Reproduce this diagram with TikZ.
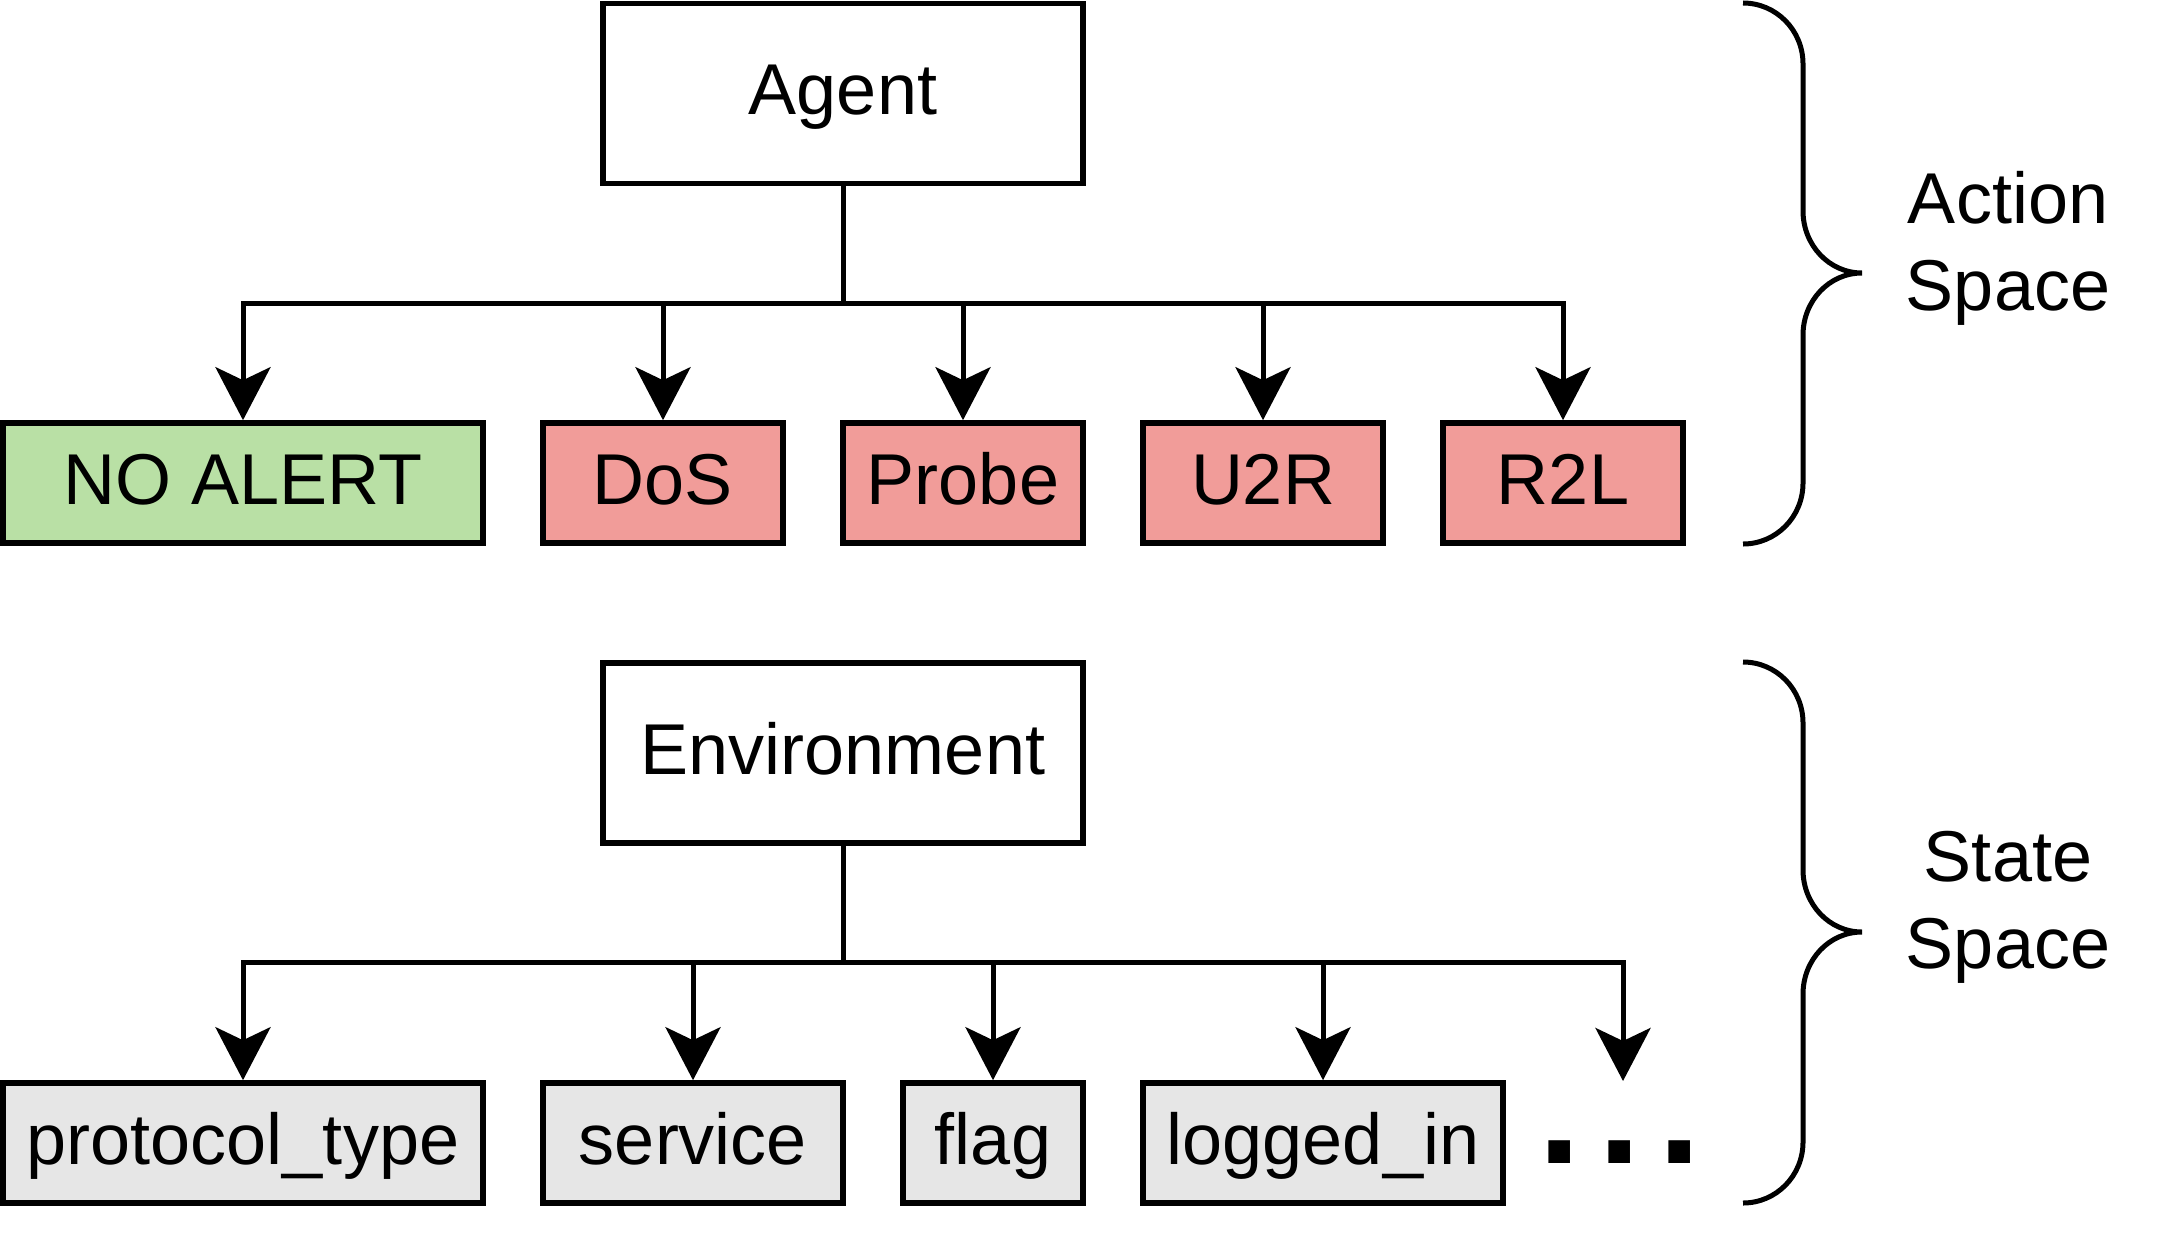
\documentclass[tikz,border=0pt]{standalone}
\usepackage{fontspec}
\setmainfont{Liberation Sans}
\usetikzlibrary{arrows.meta}
\definecolor{okgreen}{HTML}{B9E0A5}
\definecolor{attackred}{HTML}{F19C99}
\definecolor{featgray}{HTML}{E6E6E6}
\begin{document}
\begin{tikzpicture}[x=0.5pt,y=-0.5pt,
  box/.style={draw=black, line width=2.8pt, inner sep=0pt, text height=27pt, text depth=6pt, font=\fontsize{36}{43.5}\selectfont},
  bigbox/.style={box, fill=white, minimum width=240pt, minimum height=90pt},
  leaf/.style={box, minimum height=60pt},
  conn/.style={line width=2.5pt, -{Stealth[length=26.5pt,width=27.5pt,inset=6.5pt]}},
  spacelabel/.style={font=\fontsize{36}{43.5}\selectfont, align=center, inner sep=0pt, anchor=north},
  bracestyle/.style={line width=2.5pt}
]
\useasboundingbox (0,0) rectangle (2166,1236);

% ---------- Action space ----------
\node[bigbox] (agent) at (843,93.5) {Agent};
\node[leaf, fill=okgreen, minimum width=240pt] (noalert) at (243,483) {NO ALERT};
\node[leaf, fill=attackred, minimum width=120pt] (dos) at (663,483) {DoS};
\node[leaf, fill=attackred, minimum width=120pt] (probe) at (963,483) {Probe};
\node[leaf, fill=attackred, minimum width=120pt] (u2r) at (1263,483) {U2R};
\node[leaf, fill=attackred, minimum width=120pt] (r2l) at (1563,483) {R2L};

\coordinate (busA) at (843,303);
\draw[conn] (agent.south) -- (busA) -| (noalert.north);
\draw[conn] (agent.south) -- (busA) -| (dos.north);
\draw[conn] (agent.south) -- (busA) -| (probe.north);
\draw[conn] (agent.south) -- (busA) -| (u2r.north);
\draw[conn] (agent.south) -- (busA) -| (r2l.north);

% ---------- State space ----------
\node[bigbox] (env) at (843,753) {Environment};
\node[leaf, fill=featgray, minimum width=240pt] (proto) at (243,1143) {protocol\_type};
\node[leaf, fill=featgray, minimum width=150pt] (service) at (693,1143) {service};
\node[leaf, fill=featgray, minimum width=90pt] (flag) at (993,1143) {flag};
\node[leaf, fill=featgray, minimum width=180pt] (logged) at (1323,1143) {logged\_in};
\coordinate (more) at (1623,1081);
\node[font=\bfseries\fontsize{76.5}{80}\selectfont, inner sep=0pt, anchor=base] (dots) at (1620,1163) {.\kern8.75pt.\kern8.75pt.};

\coordinate (busS) at (843,962);
\draw[conn] (env.south) -- (busS) -| (proto.north);
\draw[conn] (env.south) -- (busS) -| (service.north);
\draw[conn] (env.south) -- (busS) -| (flag.north);
\draw[conn] (env.south) -- (busS) -| (logged.north);
\draw[conn] (env.south) -- (busS) -| (more);

% ---------- Braces ----------
\foreach \dy in {0,659}{
  \begin{scope}[shift={(0,\dy)}]
    \draw[bracestyle] (1743,3) .. controls (1776,3) and (1803,30) .. (1803,64)
      -- (1803,211) .. controls (1803,245) and (1829,273) .. (1862,273)
      .. controls (1829,273) and (1803,301) .. (1803,335)
      -- (1803,483) .. controls (1803,517) and (1776,544) .. (1743,544);
  \end{scope}
}

\node[spacelabel] (actlbl) at (2008,171) {Action\\Space};
\node[spacelabel] (stlbl) at (2008,831) {State\\Space};
\end{tikzpicture}
\end{document}
